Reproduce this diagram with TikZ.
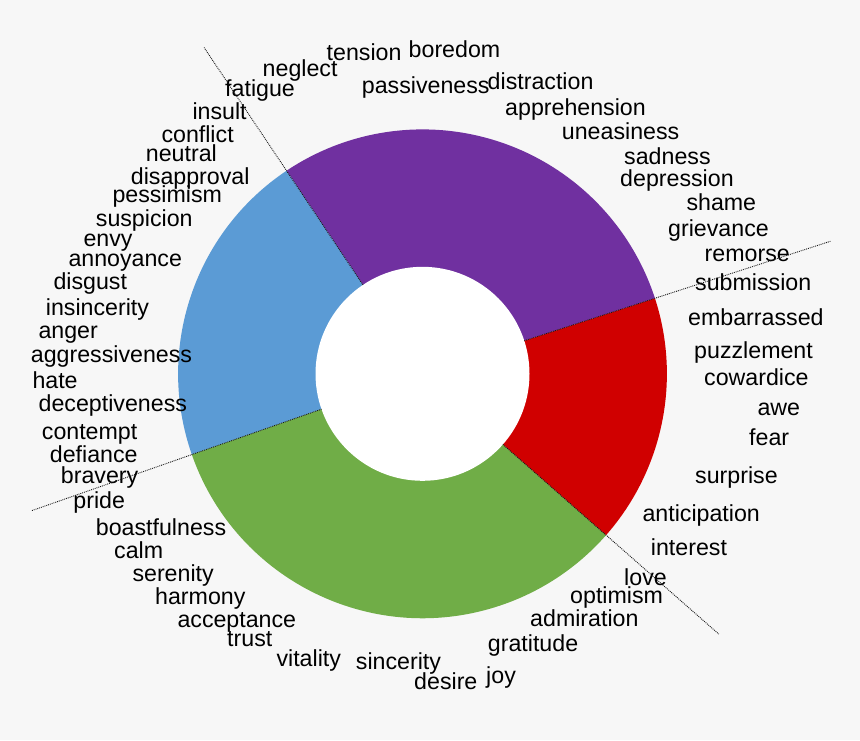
\documentclass[tikz,border=0pt]{standalone}
\usepackage{fontspec}
\setmainfont{Liberation Sans}
\usetikzlibrary{calc}
\definecolor{bgc}{HTML}{F7F7F7}
\definecolor{cpurple}{HTML}{7030A0}
\definecolor{cblue}{HTML}{5B9BD5}
\definecolor{cgreen}{HTML}{70AD47}
\definecolor{cred}{HTML}{D00000}
\begin{document}
\begin{tikzpicture}[x=1pt,y=1pt,
  word/.style={anchor=base west, inner sep=0pt, font=\fontsize{23.2}{27}\selectfont, text=black},
  sepline/.style={densely dotted, line width=0.9pt, draw=black!90}]
\useasboundingbox (0,-740) rectangle (860,0);
\fill[bgc] (0,-740) rectangle (860,0);
\coordinate (c) at (422.5,-373.8);
% donut segments
\fill[cpurple] (c) -- ++(18:244.4) arc[start angle=18, end angle=123.8, radius=244.4] -- cycle;
\fill[cblue] (c) -- ++(123.8:244.4) arc[start angle=123.8, end angle=199.3, radius=244.4] -- cycle;
\fill[cgreen] (c) -- ++(199.3:244.4) arc[start angle=199.3, end angle=318.7, radius=244.4] -- cycle;
\fill[cred] (c) -- ++(318.7:244.4) arc[start angle=318.7, end angle=378, radius=244.4] -- cycle;
\fill[white] (c) circle[radius=107];
% words
\node[word] (tension) at (326.5,-60.7) {tension};
\node[word] (boredom) at (408.5,-57.3) {boredom};
\node[word] (neglect) at (262.5,-76.7) {neglect};
\node[word] (fatigue) at (225,-96.7) {fatigue};
\node[word] (passiveness) at (361.7,-93.3) {passiveness};
\node[word] (distraction) at (487.5,-89) {distraction};
\node[word] (apprehension) at (505,-115) {apprehension};
\node[word] (uneasiness) at (561.7,-139.3) {uneasiness};
\node[word] (sadness) at (624,-164.3) {sadness};
\node[word] (depression) at (620,-186.7) {depression};
\node[word] (shame) at (686.3,-210) {shame};
\node[word] (grievance) at (668,-236.7) {grievance};
\node[word] (remorse) at (704.5,-261) {remorse};
\node[word] (submission) at (695,-290) {submission};
\node[word] (embarrassed) at (688,-325) {embarrassed};
\node[word] (puzzlement) at (694,-358.3) {puzzlement};
\node[word] (cowardice) at (704,-385.7) {cowardice};
\node[word] (awe) at (757.3,-415.5) {awe};
\node[word] (fear) at (749,-445) {fear};
\node[word] (surprise) at (695,-483.3) {surprise};
\node[word] (anticipation) at (642.3,-521.7) {anticipation};
\node[word] (interest) at (650.7,-555) {interest};
\node[word] (love) at (624,-585.5) {love};
\node[word] (optimism) at (570,-603.3) {optimism};
\node[word] (admiration) at (530,-626.3) {admiration};
\node[word] (gratitude) at (487.7,-651.3) {gratitude};
\node[word] (joy) at (486,-683.3) {joy};
\node[word] (desire) at (414,-689.3) {desire};
\node[word] (sincerity) at (355.7,-669.3) {sincerity};
\node[word] (vitality) at (276.3,-666.7) {vitality};
\node[word] (trust) at (227,-646.7) {trust};
\node[word] (acceptance) at (177.3,-627.7) {acceptance};
\node[word] (harmony) at (155,-604) {harmony};
\node[word] (serenity) at (132.3,-581) {serenity};
\node[word] (calm) at (114,-558.3) {calm};
\node[word] (boastfulness) at (95.7,-535) {boastfulness};
\node[word] (pride) at (73.2,-508.3) {pride};
\node[word] (bravery) at (60.7,-483.3) {bravery};
\node[word] (defiance) at (49.7,-462.7) {defiance};
\node[word] (contempt) at (41.7,-439.3) {contempt};
\node[word] (deceptiveness) at (38.5,-411) {deceptiveness};
\node[word] (hate) at (32.3,-388.3) {hate};
\node[word] (aggressiveness) at (30.7,-362.3) {aggressiveness};
\node[word] (anger) at (38.3,-338.3) {anger};
\node[word] (insincerity) at (45.7,-315) {insincerity};
\node[word] (disgust) at (53.3,-289) {disgust};
\node[word] (annoyance) at (68.3,-266.7) {annoyance};
\node[word] (envy) at (83.3,-246.7) {envy};
\node[word] (suspicion) at (95.7,-226) {suspicion};
\node[word] (pessimism) at (112.3,-202.7) {pessimism};
\node[word] (disapproval) at (130.7,-184) {disapproval};
\node[word] (neutral) at (145.7,-161.7) {neutral};
\node[word] (conflict) at (161.3,-142.7) {conflict};
\node[word] (insult) at (192.3,-119.3) {insult};
% dotted separator lines
\coordinate (e1) at ($(c)+(123.8:392.6)$);
\coordinate (e2) at ($(c)+(18:428.9)$);
\coordinate (e3) at ($(c)+(318.7:394.4)$);
\coordinate (e4) at ($(c)+(199.3:414.8)$);
\coordinate (s1) at ($(c)+(123.8:107)$);
\coordinate (s2) at ($(c)+(18:107)$);
\coordinate (s3) at ($(c)+(318.7:107)$);
\coordinate (s4) at ($(c)+(199.3:107)$);
\draw[sepline] (s1) -- (e1);
\draw[sepline] (s2) -- (e2);
\draw[sepline] (s3) -- (e3);
\draw[sepline] (s4) -- (e4);
\end{tikzpicture}
\end{document}
